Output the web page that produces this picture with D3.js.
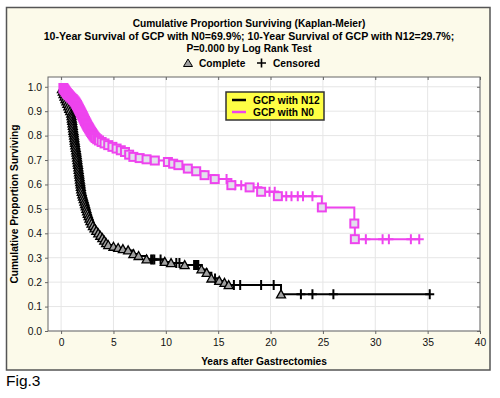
<!DOCTYPE html>
<html>
<head>
<meta charset="utf-8">
<script src="https://cdn.jsdelivr.net/npm/d3@7"></script>
<style>
  body { margin: 0; background: #fff; }
  svg { font-family: "Liberation Sans", Arial, sans-serif; }
</style>
</head>
<body>
<div id="chart"></div>
<script>
// title lines
const titleLines = [
  "Cumulative Proportion Surviving (Kaplan-Meier)",
  "10-Year Survival of GCP with N0=69.9%; 10-Year Survival of GCP with N12=29.7%;",
  "P=0.000 by Log Rank Test"
];
const seriesNames = ["GCP with N12", "GCP with N0"];
const xTicks = [0, 5, 10, 15, 20, 25, 30, 35, 40];
const yTicks = [0, 0.1, 0.2, 0.3, 0.4, 0.5, 0.6, 0.7, 0.8, 0.9, 1.0];

// N12 : [years, survival] for complete (death) events
const n12Complete = [
  [0.08,0.99],[0.16,0.98],[0.24,0.97],[0.33,0.96],[0.42,0.95],[0.51,0.94],[0.60,0.93],
  [0.69,0.92],[0.78,0.91],[0.87,0.90],[0.97,0.89],[1.00,0.88],[1.03,0.87],[1.06,0.86],
  [1.09,0.85],[1.12,0.84],[1.15,0.83],[1.18,0.82],[1.21,0.81],[1.24,0.80],[1.27,0.79],
  [1.30,0.78],[1.33,0.77],[1.36,0.76],[1.40,0.75],[1.44,0.74],[1.47,0.73],[1.50,0.72],
  [1.53,0.71],[1.56,0.70],[1.59,0.69],[1.62,0.68],[1.65,0.67],[1.68,0.66],[1.71,0.65],
  [1.74,0.64],[1.77,0.63],[1.80,0.62],[1.83,0.61],[1.86,0.60],[1.89,0.59],[1.92,0.58],
  [1.97,0.57],[2.03,0.56],[2.09,0.55],[2.16,0.54],[2.23,0.53],[2.29,0.52],[2.35,0.51],
  [2.41,0.50],[2.48,0.49],[2.55,0.48],[2.63,0.47],[2.71,0.46],[2.80,0.45],[2.91,0.44],
  [3.04,0.43],[3.19,0.42],[3.36,0.41],[3.55,0.40],[3.74,0.39],[3.94,0.38],[4.12,0.37],
  [4.30,0.36],[4.50,0.352],[5.00,0.345],[5.45,0.34],[5.90,0.335],[6.40,0.33],[6.90,0.315],
  [7.40,0.307],[8.16,0.293],[9.90,0.283],[10.50,0.278],[11.80,0.27],[13.40,0.252],
  [13.90,0.238],[14.35,0.215],[15.10,0.205],[15.60,0.197],[16.00,0.188],[21.00,0.15]
];
const n12Censored = [
  [8.60,0.293],[8.75,0.293],[8.90,0.293],[9.50,0.293],[11.00,0.278],[11.30,0.278],
  [12.70,0.27],[12.80,0.27],[12.90,0.27],[13.00,0.27],[13.10,0.27],[14.70,0.215],
  [16.50,0.188],[17.10,0.188],[19.10,0.188],[20.30,0.188],
  [22.90,0.15],[24.00,0.15],[26.00,0.15],[35.20,0.15]
];

// N0
const n0Complete = [
  [0.22,0.995],[0.30,0.99],[0.38,0.985],[0.46,0.98],[0.55,0.975],[0.65,0.97],[0.75,0.965],
  [0.86,0.96],[0.98,0.955],[1.10,0.95],[1.20,0.945],[1.30,0.94],[1.38,0.935],[1.45,0.93],
  [1.52,0.925],[1.58,0.92],[1.64,0.915],[1.70,0.91],[1.76,0.905],[1.82,0.90],[1.88,0.895],
  [1.94,0.89],[2.00,0.885],[2.06,0.88],[2.11,0.875],[2.17,0.87],[2.22,0.865],[2.28,0.86],
  [2.34,0.855],[2.40,0.85],[2.46,0.845],[2.52,0.84],[2.59,0.835],[2.66,0.83],[2.73,0.825],
  [2.80,0.82],[2.87,0.815],[2.95,0.81],[3.03,0.805],[3.11,0.80],[3.20,0.795],[3.30,0.79],
  [3.45,0.785],[3.62,0.78],[3.87,0.774],[4.15,0.768],[4.50,0.761],[4.90,0.754],[5.30,0.747],
  [5.70,0.740],[6.10,0.733],[6.50,0.722],[6.90,0.713],[7.50,0.708],[8.16,0.703],[8.95,0.698],
  [10.20,0.692],[10.70,0.685],[11.20,0.679],[12.10,0.665],[12.90,0.654],[13.70,0.638],
  [14.67,0.622],[16.26,0.597],[18.00,0.588],[19.10,0.570],[20.70,0.552],[24.90,0.506],
  [28.00,0.440],[28.05,0.376]
];
const n0Censored = [
  [15.80,0.622],[16.60,0.597],[17.20,0.597],[18.80,0.588],[19.90,0.570],[20.40,0.570],
  [21.50,0.552],[22.00,0.552],[22.60,0.552],[23.10,0.552],[24.00,0.552],
  [29.10,0.376],[30.70,0.376],[31.30,0.376],[33.40,0.376],[34.20,0.376]
];

const width = 500, height = 398;
const plot = { left: 48, right: 480, top: 77, bottom: 331 };
const black = "#000", magenta = "#ee44ee";

const svg = d3.select("#chart").append("svg")
  .attr("width", width)
  .attr("height", height);

// outer frame
svg.append("rect")
  .attr("x", 6.5).attr("y", 7.5)
  .attr("width", 483.5).attr("height", 362.5)
  .attr("fill", "#fcfaea")
  .attr("stroke", "#555")
  .attr("stroke-width", 1.5);

svg.append("rect")
  .attr("x", plot.left).attr("y", plot.top)
  .attr("width", plot.right - plot.left).attr("height", plot.bottom - plot.top)
  .attr("fill", "#fff");

const x = d3.scaleLinear().domain([-1.25, 40]).range([plot.left, plot.right]);
const y = d3.scaleLinear().domain([0, 1.04]).range([plot.bottom, plot.top]);

// grid
svg.append("g").selectAll("line").data(xTicks).enter().append("line")
  .attr("x1", d => x(d)).attr("x2", d => x(d))
  .attr("y1", plot.top).attr("y2", plot.bottom)
  .attr("stroke", "#e6e6e6");
svg.append("g").selectAll("line").data(yTicks).enter().append("line")
  .attr("x1", plot.left).attr("x2", plot.right)
  .attr("y1", d => y(d)).attr("y2", d => y(d))
  .attr("stroke", "#e6e6e6");

// axes
const xAxis = svg.append("g")
  .attr("transform", `translate(0,${plot.bottom})`)
  .call(d3.axisBottom(x).tickValues(xTicks).tickSize(3).tickPadding(5).tickFormat(d3.format("d")));
const yAxis = svg.append("g")
  .attr("transform", `translate(${plot.left},0)`)
  .call(d3.axisLeft(y).tickValues(yTicks).tickSize(3).tickPadding(3).tickFormat(d3.format(".1f")));
svg.append("g")
  .attr("transform", `translate(${plot.right},0)`)
  .call(d3.axisLeft(y).tickValues(yTicks).tickSize(3).tickFormat(""));
svg.append("g")
  .attr("transform", `translate(0,${plot.top})`)
  .call(d3.axisBottom(x).tickValues(xTicks).tickSize(3).tickFormat(""));

[xAxis, yAxis].forEach(a => a.selectAll("text")
  .attr("font-size", "10.3px").attr("fill", "#111")
  .style("font-family", "'Liberation Sans', Arial, sans-serif"));
svg.selectAll(".domain").remove();
svg.selectAll(".tick line").attr("stroke", "#666");

svg.append("rect")
  .attr("x", plot.left).attr("y", plot.top)
  .attr("width", plot.right - plot.left).attr("height", plot.bottom - plot.top)
  .attr("fill", "none").attr("stroke", "#666");

// KM step curves
const line = d3.line().x(d => x(d[0])).y(d => y(d[1])).curve(d3.curveStepAfter);

function drawSeries(complete, censored, color, shape) {
  const pts = [[0, 1]].concat(complete, censored).sort((a, b) => a[0] - b[0]);
  svg.append("path")
    .datum(pts)
    .attr("fill", "none")
    .attr("stroke", color)
    .attr("stroke-width", 2)
    .attr("d", line);

  svg.append("g").selectAll("path").data(censored).enter().append("path")
    .attr("d", d => `M${x(d[0]) - 4.5},${y(d[1])}h9M${x(d[0])},${y(d[1]) - 5}v10`)
    .attr("stroke", color)
    .attr("stroke-width", 2)
    .attr("fill", "none");

  if (shape === "triangle") {
    svg.append("g").selectAll("path").data(complete).enter().append("path")
      .attr("d", d => `M${x(d[0])},${y(d[1]) - 4.5}l4.5,8h-9z`)
      .attr("fill", "#a0a0a0")
      .attr("stroke", "#000")
      .attr("stroke-width", 1.3);
  } else {
    svg.append("g").selectAll("rect").data(complete).enter().append("rect")
      .attr("x", d => x(d[0]) - 4)
      .attr("y", d => y(d[1]) - 4)
      .attr("width", 8).attr("height", 8)
      .attr("fill", "#e2e0ec")
      .attr("stroke", color)
      .attr("stroke-width", 2);
  }
}

drawSeries(n12Complete, n12Censored, black, "triangle");
drawSeries(n0Complete, n0Censored, magenta, "square");

// titles
svg.append("g").selectAll("text").data(titleLines).enter().append("text")
  .attr("x", 249)
  .attr("y", (d, i) => 27 + i * 12.5)
  .attr("text-anchor", "middle")
  .attr("font-size", (d, i) => i === 1 ? "10.6px" : "10.2px")
  .attr("font-weight", "bold")
  .text(d => d);

// marker key
svg.append("path")
  .attr("d", "M188,59l4.5,7.5h-9z")
  .attr("fill", "#a0a0a0").attr("stroke", "#000");
svg.append("text").attr("x", 199).attr("y", 67)
  .attr("font-size", "10.2px").attr("font-weight", "bold").text("Complete");
svg.append("path")
  .attr("d", "M257,63h9M261.5,58.5v9")
  .attr("stroke", "#000").attr("stroke-width", 1.6);
svg.append("text").attr("x", 273).attr("y", 67)
  .attr("font-size", "10.2px").attr("font-weight", "bold").text("Censored");

// series legend
const legend = svg.append("g").attr("transform", "translate(226,92)");
legend.append("rect")
  .attr("width", 98).attr("height", 28)
  .attr("fill", "#ffff44")
  .attr("stroke", "#333").attr("stroke-width", 1.5);
seriesNames.forEach((name, i) => {
  legend.append("line")
    .attr("x1", 6).attr("x2", 20)
    .attr("y1", 8 + i * 12).attr("y2", 8 + i * 12)
    .attr("stroke", i === 0 ? black : magenta)
    .attr("stroke-width", 2.5);
  legend.append("text")
    .attr("x", 27).attr("y", 12 + i * 12)
    .attr("font-size", "10.2px").attr("font-weight", "bold")
    .text(name);
});

// axis titles
svg.append("text")
  .attr("x", (plot.left + plot.right) / 2).attr("y", 365)
  .attr("text-anchor", "middle")
  .attr("font-size", "10.2px").attr("font-weight", "bold")
  .text("Years after Gastrectomies");
svg.append("text")
  .attr("transform", `translate(18,${(plot.top + plot.bottom) / 2}) rotate(-90)`)
  .attr("text-anchor", "middle")
  .attr("font-size", "10.2px").attr("font-weight", "bold")
  .text("Cumulative Proportion Surviving");

svg.append("text")
  .attr("x", 6).attr("y", 386)
  .attr("font-size", "15.5px")
  .text("Fig.3");
</script>
</body>
</html>
